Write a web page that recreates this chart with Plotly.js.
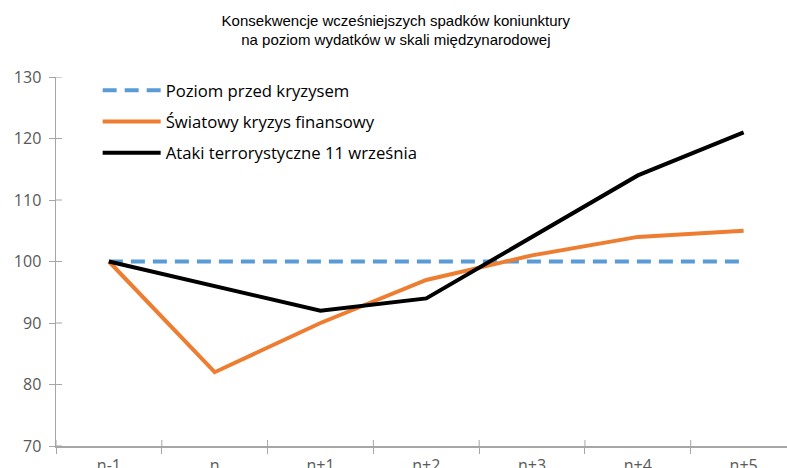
<!DOCTYPE html>
<html>
<head>
<meta charset="utf-8">
<script src="https://cdn.plot.ly/plotly-3.0.1.min.js"></script>
<style>html,body{margin:0;padding:0;background:#fff;}#chart{width:787px;height:468px;}</style>
</head>
<body>
<div id="chart"></div>
<script>
const categories = ['n-1', 'n', 'n+1', 'n+2', 'n+3', 'n+4', 'n+5'];
const preCrisis = [100, 100, 100, 100, 100, 100, 100];
const financialCrisis = [100, 82, 90, 97, 101, 104, 105];
const terrorAttacks = [100, 96, 92, 94, 104, 114, 121];
const seriesNames = ['Poziom przed kryzysem', 'Światowy kryzys finansowy', 'Ataki terrorystyczne 11 września'];
const yTicks = [70, 80, 90, 100, 110, 120, 130];

const axisColor = '#a6a6a6';
const tickFont = {family: 'Open Sans, sans-serif', size: 16, color: '#595959'};

const traces = [
  {x: categories, y: preCrisis, name: seriesNames[0], mode: 'lines', legendgroup: 'a',
   line: {color: '#5B9BD5', width: 4, dash: '14px,8px'}},
  {x: categories, y: financialCrisis, name: seriesNames[1], mode: 'lines', legendgroup: 'b',
   line: {color: '#ED7D31', width: 4}},
  {x: categories, y: terrorAttacks, name: seriesNames[2], mode: 'lines', legendgroup: 'c',
   line: {color: '#000000', width: 4}}
];

// cross-shaped tick marks (the inner half of each tick), derived from the axis ticks
const innerTickStyle = {color: axisColor, width: 1};
const shapes = [];
yTicks.forEach(v => shapes.push({
  type: 'line', layer: 'below', xref: 'paper', yref: 'y', xsizemode: 'pixel', xanchor: 0,
  x0: 0, x1: 6, y0: v, y1: v, line: innerTickStyle
}));
categories.forEach((c, i) => shapes.push({
  type: 'line', layer: 'below', xref: 'x', yref: 'paper', ysizemode: 'pixel', yanchor: 0,
  x0: i - 0.5, x1: i - 0.5, y0: 0, y1: 6, line: innerTickStyle
}));

const layout = {
  width: 787, height: 468,
  margin: {l: 56, r: 0, t: 77, b: 22},
  paper_bgcolor: '#ffffff', plot_bgcolor: '#ffffff',
  title: {
    text: 'Konsekwencje wcześniejszych spadków koniunktury<br>na poziom wydatków w skali międzynarodowej',
    font: {family: 'Liberation Sans, Arial, sans-serif', size: 15, color: '#000'},
    x: 0.503, xanchor: 'center', y: 0.945, yanchor: 'middle'
  },
  showlegend: true,
  legend: {
    x: 0.057, y: 1.011, xanchor: 'left', yanchor: 'top',
    font: {family: 'Open Sans, sans-serif', size: 16.7, color: '#000'},
    bgcolor: 'rgba(0,0,0,0)', traceorder: 'grouped', tracegroupgap: 6.5,
    itemwidth: 58
  },
  shapes: shapes,
  xaxis: {
    type: 'category', range: [-0.5, 6.41], tickson: 'boundaries',
    ticks: 'outside', ticklen: 6, tickwidth: 1, tickcolor: axisColor,
    showline: true, linecolor: axisColor, linewidth: 1.5, ticklabelstandoff: 4,
    showgrid: false, zeroline: false, tickfont: tickFont, fixedrange: true
  },
  yaxis: {
    range: [70, 130], tickvals: yTicks,
    ticks: 'outside', ticklen: 6, tickwidth: 1, tickcolor: axisColor,
    showline: true, linecolor: axisColor, linewidth: 1.5, ticklabelstandoff: 4,
    showgrid: false, zeroline: false, tickfont: tickFont, fixedrange: true
  }
};

Plotly.newPlot('chart', traces, layout, {displayModeBar: false, staticPlot: true});
</script>
</body>
</html>
